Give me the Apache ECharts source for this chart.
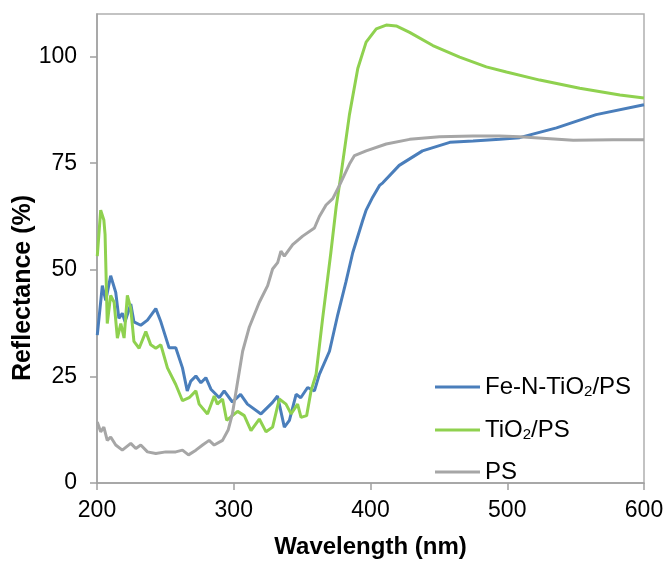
<!DOCTYPE html>
<html><head><meta charset="utf-8">
<script src="https://cdn.jsdelivr.net/npm/echarts@6/dist/echarts.min.js"></script>
<style>html,body{margin:0;padding:0;background:#fff}#c{width:667px;height:564px}</style>
</head><body><div id="c"></div>
<script>
var seriesNames = ['Fe-N-TiO2/PS', 'TiO2/PS', 'PS'];
var legendLabels = ['Fe-N-TiO{sub|2}/PS', 'TiO{sub|2}/PS', 'PS'];
var xTicks = [200, 300, 400, 500, 600];
var yTicks = [0, 25, 50, 75, 100];

var feNTiO2 = [[200.2,34.7],[203.9,46.3],[206.4,42.8],[210,48.6],[213.7,44.7],[216,38.6],[218.5,39.8],[220.5,37.8],[224.7,42],[227,37.8],[232,37],[236.9,38.2],[243,40.9],[246.7,37.8],[252.7,31.7],[257.6,31.7],[262.5,27],[266,21.6],[268.6,23.9],[272.3,25.1],[276,23.5],[279.6,24.7],[283.3,22],[289.4,20],[293,21.6],[299,19],[305,20.8],[310,18.5],[319.9,16.2],[328.4,18.9],[332,20.4],[337,13.1],[340.7,14.7],[345.6,20.8],[349,20],[354,22.4],[359,21.6],[362.6,25.5],[370,30.9],[376,39.4],[382,47.1],[387,54],[394.4,61.7],[396.8,64],[401.7,67.1],[406.6,69.8],[409,70.4],[421,74.5],[438,77.9],[458,79.9],[475,80.2],[494.5,80.6],[509,81],[536,83.3],[565,86.4],[600,88.7]];

var tiO2 = [[200.2,53.2],[202.7,64],[205,61.7],[205.9,58.3],[207.5,37.4],[210,44],[212.5,42.4],[214.9,34],[217.4,37.4],[219.8,34],[222.2,44],[224.7,40.9],[227,33.2],[230.8,31.6],[235.7,35.5],[239.3,32.4],[243,31.6],[246.7,32.4],[251.5,27],[257.6,23.1],[262.5,19.3],[267.4,20],[272.3,21.6],[274.7,18.5],[280.8,16.2],[285.7,20.4],[288,18.5],[291.8,19.7],[294.8,14.7],[302.8,16.8],[307.7,15.8],[312.6,12.3],[318.7,15],[323.6,12],[328.4,13.1],[333.3,19.7],[338.2,18.5],[341.9,16.2],[346.7,18.5],[349.2,15.4],[353.3,15.8],[356.5,21.6],[360.2,25.5],[365,38.6],[371,54],[374.9,64.8],[378.5,72.5],[384.6,86.4],[390.7,97.2],[396.8,103.4],[404.2,106.5],[411.5,107.4],[418.8,107.2],[428.6,105.7],[445.6,102.6],[465.2,99.9],[484.7,97.6],[499.4,96.4],[523.8,94.5],[553,92.6],[582.4,91],[600,90.3]];

var ps = [[200.2,14.3],[202.7,12],[205,13.1],[207.5,10],[210,10.8],[213.7,8.9],[218.5,7.7],[224.7,9.3],[228.4,8.1],[232,8.9],[236.9,7.3],[243,6.9],[250.3,7.3],[257.6,7.3],[262.5,7.7],[266.9,6.6],[272.3,7.7],[277.2,8.9],[282,10],[285.7,8.9],[291.8,10],[296,12.5],[299,16.2],[302.2,22.5],[306.5,30.9],[311.4,36.6],[318.7,42.4],[324.8,46.3],[328.4,50.2],[332.1,51.7],[334.5,54.4],[337,53.2],[343.1,55.9],[350.4,57.9],[359,59.8],[362.6,62.5],[367.5,65.2],[372.4,66.7],[377.3,69.8],[384.6,74.8],[388.3,76.8],[396.8,77.9],[411.5,79.5],[428.6,80.6],[450.5,81.2],[475,81.4],[494.5,81.4],[509,81.2],[528.6,80.8],[548.2,80.4],[577.5,80.5],[600,80.5]];

var colors = ['#4a7ebb', '#8fd14f', '#a6a6a6'];
var dataSets = [feNTiO2, tiO2, ps];

var chart = echarts.init(document.getElementById('c'), null, {renderer: 'canvas'});
var FONT = '"Liberation Sans", Arial, sans-serif';
var axisGray = '#a0a0a0';

chart.setOption({
  animation: false,
  backgroundColor: '#fff',
  grid: {left: 97, right: 23, top: 14, bottom: 75, show: true, borderColor: '#b0b0b0', borderWidth: 1.5},
  xAxis: {
    type: 'value', min: xTicks[0], max: xTicks[xTicks.length - 1], interval: 100,
    name: 'Wavelength (nm)', nameLocation: 'middle', nameGap: 52,
    nameTextStyle: {fontFamily: FONT, fontSize: 24, fontWeight: 'bold', color: '#000'},
    axisLine: {lineStyle: {color: axisGray, width: 1.5}},
    axisTick: {show: true, length: 7, lineStyle: {color: axisGray, width: 1.5}},
    axisLabel: {margin: 16, fontFamily: FONT, fontSize: 23, color: '#000'},
    splitLine: {show: false}
  },
  yAxis: {
    type: 'value', min: yTicks[0], max: 110, interval: 25,
    axisLine: {show: true, lineStyle: {color: axisGray, width: 1.5}},
    axisTick: {show: true, length: 7, lineStyle: {color: axisGray, width: 1.5}},
    axisLabel: {margin: 20, fontFamily: FONT, fontSize: 23, color: '#000', showMaxLabel: false},
    splitLine: {show: false}
  },
  legend: {
    orient: 'vertical', left: 430, top: 369, itemWidth: 45, itemHeight: 3, itemGap: 18,
    icon: 'rect',
    data: seriesNames,
    formatter: function (n) { return legendLabels[seriesNames.indexOf(n)]; },
    textStyle: {fontFamily: FONT, fontSize: 24, color: '#000', lineHeight: 24,
      rich: {sub: {fontFamily: FONT, fontSize: 15, color: '#000', lineHeight: 24, verticalAlign: 'bottom', padding: [10, 0, 0, 0]}}}
  },
  graphic: [{
    type: 'text', x: 23, y: 288, rotation: Math.PI / 2,
    style: {text: 'Reflectance (%)', font: 'bold 25px ' + FONT, fill: '#000', textAlign: 'center', textVerticalAlign: 'middle'}
  }],
  series: dataSets.map(function (d, i) {
    return {name: seriesNames[i], type: 'line', data: d, showSymbol: false, symbol: 'none',
      lineStyle: {color: colors[i], width: 3}, itemStyle: {color: colors[i]}, smooth: false};
  })
});
</script></body></html>
